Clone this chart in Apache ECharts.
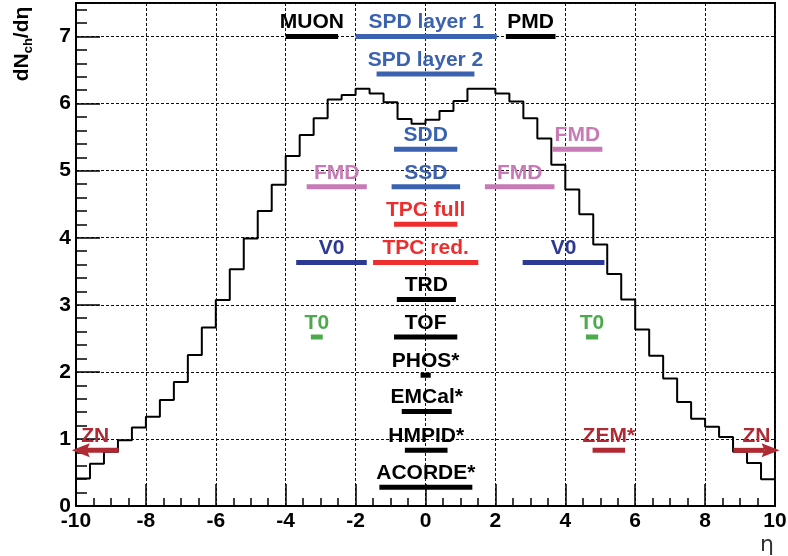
<!DOCTYPE html>
<html>
<head>
<meta charset="utf-8">
<script src="https://cdn.jsdelivr.net/npm/echarts@6/dist/echarts.min.js"></script>
<style>
  html, body { margin: 0; padding: 0; background: #fff; }
  #chart { width: 788px; height: 556px; }
</style>
</head>
<body>
<div id="chart"></div>
<script>
// dN/deta histogram, 50 bins of 0.4 from -10 to 10
const etaStart = -10;
const binWidth = 0.4;
const dndeta = [
  0.41, 0.63, 0.81, 0.98, 1.17, 1.33, 1.58, 1.85, 2.25, 2.66,
  3.07, 3.53, 3.99, 4.40, 4.79, 5.22, 5.53, 5.78, 6.06, 6.13,
  6.22, 6.15, 6.02, 5.77, 5.70, 5.76, 5.89, 6.04, 6.22, 6.22,
  6.15, 6.03, 5.78, 5.48, 5.09, 4.72, 4.35, 3.90, 3.46, 3.08,
  2.63, 2.24, 1.90, 1.55, 1.30, 1.18, 1.03, 0.81, 0.64, 0.40
];

// detector acceptances
const detNames  = ['MUON', 'SPD layer 1', 'PMD', 'SPD layer 2', 'SDD', 'FMD', 'FMD', 'SSD', 'FMD',
                   'TPC full', 'V0', 'TPC red.', 'V0', 'TRD', 'TOF', 'T0', 'T0', 'PHOS*',
                   'EMCal*', 'HMPID*', 'ZEM*', 'ACORDE*', 'ZN', 'ZN'];
const detEtaMin = [-4.0, -2.0, 2.3, -1.4, -0.9, 3.63, -3.4, -0.97, 1.7,
                   -0.9, -3.7, -1.5, 2.78, -0.82, -0.9, -3.28, 4.59, -0.14,
                   -0.68, -0.59, 4.78, -1.32, -10.12, 8.81];
const detEtaMax = [-2.5, 2.04, 3.72, 1.4, 0.91, 5.06, -1.68, 0.99, 3.69,
                   0.91, -1.68, 1.51, 5.12, 0.87, 0.91, -2.94, 4.94, 0.15,
                   0.75, 0.63, 5.71, 1.34, -8.78, 10.13];
const detLevel  = [7.0, 7.0, 7.0, 6.44, 5.32, 5.32, 4.76, 4.76, 4.76,
                   4.2, 3.63, 3.63, 3.63, 3.08, 2.52, 2.52, 2.52, 1.95,
                   1.41, 0.83, 0.83, 0.28, 0.83, 0.83];
const detGroup  = ['k', 'spd', 'k', 'spd', 'spd', 'fmd', 'fmd', 'spd', 'fmd',
                   'tpc', 'v0', 'tpc', 'v0', 'k', 'k', 't0', 't0', 'k',
                   'k', 'k', 'zdc', 'k', 'zdc', 'zdc'];
const detArrow  = [0, 0, 0, 0, 0, 0, 0, 0, 0, 0, 0, 0, 0, 0, 0, 0, 0, 0, 0, 0, 0, 0, -1, 1];

const groupColors = {
  k: '#000000',
  spd: '#3a62b0',
  fmd: '#c77ab5',
  tpc: '#ee2e2e',
  v0: '#2c3a93',
  t0: '#4caa4c',
  zdc: '#b02a33'
};

const chart = echarts.init(document.getElementById('chart'));

// step points: lower edges plus closing edge
const histPoints = dndeta.map((v, i) => [etaStart + i * binWidth, v]);
histPoints.push([etaStart + dndeta.length * binWidth, dndeta[dndeta.length - 1]]);

const detData = detNames.map((n, i) => [detEtaMin[i], detEtaMax[i], detLevel[i], i]);

const labelFont = 'bold 21px "Liberation Sans", Arial, sans-serif';

function renderDetector(params, api) {
  const i = api.value(3);
  const color = groupColors[detGroup[i]];
  const a = api.coord([api.value(0), api.value(2)]);
  const b = api.coord([api.value(1), api.value(2)]);
  const y = a[1];
  const dir = detArrow[i];
  const children = [];
  if (dir === 0) {
    children.push({
      type: 'line',
      shape: { x1: a[0], y1: y, x2: b[0], y2: y },
      style: { stroke: color, lineWidth: 5 }
    });
  } else {
    // ZN arrows
    const tip = dir < 0 ? a[0] : b[0];
    const tail = dir < 0 ? b[0] : a[0];
    const base = tip - dir * 15;
    children.push({
      type: 'line',
      shape: { x1: tail, y1: y, x2: base, y2: y },
      style: { stroke: color, lineWidth: 5 }
    });
    children.push({
      type: 'polygon',
      shape: { points: [[tip, y], [base - dir * 3, y - 7], [base, y], [base - dir * 3, y + 7]] },
      style: { fill: color }
    });
  }
  children.push({
    type: 'text',
    x: (a[0] + b[0]) / 2,
    y: y - 14,
    style: {
      text: detNames[i],
      fill: color,
      font: labelFont,
      align: 'center',
      verticalAlign: 'middle'
    }
  });
  return { type: 'group', children: children };
}

const gridDash = { color: '#111', width: 1, type: [3, 2] };

const option = {
  animation: false,
  backgroundColor: '#fff',
  grid: {
    left: 76,
    right: 13,
    top: 3,
    bottom: 50,
    show: true,
    borderColor: '#000',
    borderWidth: 2,
    outerBoundsMode: 'none'
  },
  xAxis: {
    type: 'value',
    min: -10,
    max: 10,
    interval: 2,
    axisLine: { show: true, onZero: false, lineStyle: { color: '#000', width: 2 } },
    axisTick: { show: true, inside: true, length: 22, lineStyle: { color: '#000', width: 1.5 } },
    minorTick: { show: true, splitNumber: 4, length: 8, lineStyle: { color: '#000', width: 1.5 } },
    axisLabel: {
      color: '#000',
      fontSize: 21,
      fontWeight: 'bold',
      fontFamily: 'Liberation Sans',
      margin: 5
    },
    splitLine: { show: true, lineStyle: gridDash }
  },
  yAxis: {
    type: 'value',
    min: 0,
    max: 7.5,
    interval: 1,
    axisLine: { show: true, onZero: false, lineStyle: { color: '#000', width: 2 } },
    axisTick: { show: true, inside: true, length: 24, lineStyle: { color: '#000', width: 1.5 } },
    minorTick: { show: true, splitNumber: 5, length: 11, lineStyle: { color: '#000', width: 1.5 } },
    axisLabel: {
      color: '#000',
      fontSize: 21,
      fontWeight: 'bold',
      fontFamily: 'Liberation Sans',
      margin: 5,
      showMaxLabel: false
    },
    splitLine: { show: true, lineStyle: gridDash }
  },
  graphic: [
    {
      type: 'text',
      x: 22,
      y: 44,
      rotation: Math.PI / 2,
      style: {
        text: '{a|dN}{b|ch}{a|/dη}',
        align: 'center',
        verticalAlign: 'middle',
        rich: {
          a: { font: 'bold 21px "Liberation Sans"', fill: '#000', lineHeight: 26 },
          b: { font: 'bold 13px "Liberation Sans"', fill: '#000', verticalAlign: 'bottom' }
        }
      }
    },
    {
      type: 'text',
      x: 767,
      y: 545,
      style: {
        text: 'η',
        font: '22px "DejaVu Sans"',
        fill: '#333',
        align: 'center',
        verticalAlign: 'middle'
      }
    }
  ],
  series: [
    {
      name: 'dNch/deta',
      type: 'line',
      step: 'end',
      data: histPoints,
      symbol: 'none',
      lineStyle: { color: '#000', width: 2 },
      z: 3
    },
    {
      name: 'detectors',
      type: 'custom',
      data: detData,
      encode: { x: [0, 1], y: 2 },
      renderItem: renderDetector,
      clip: false,
      z: 5
    }
  ]
};

chart.setOption(option);
</script>
</body>
</html>
